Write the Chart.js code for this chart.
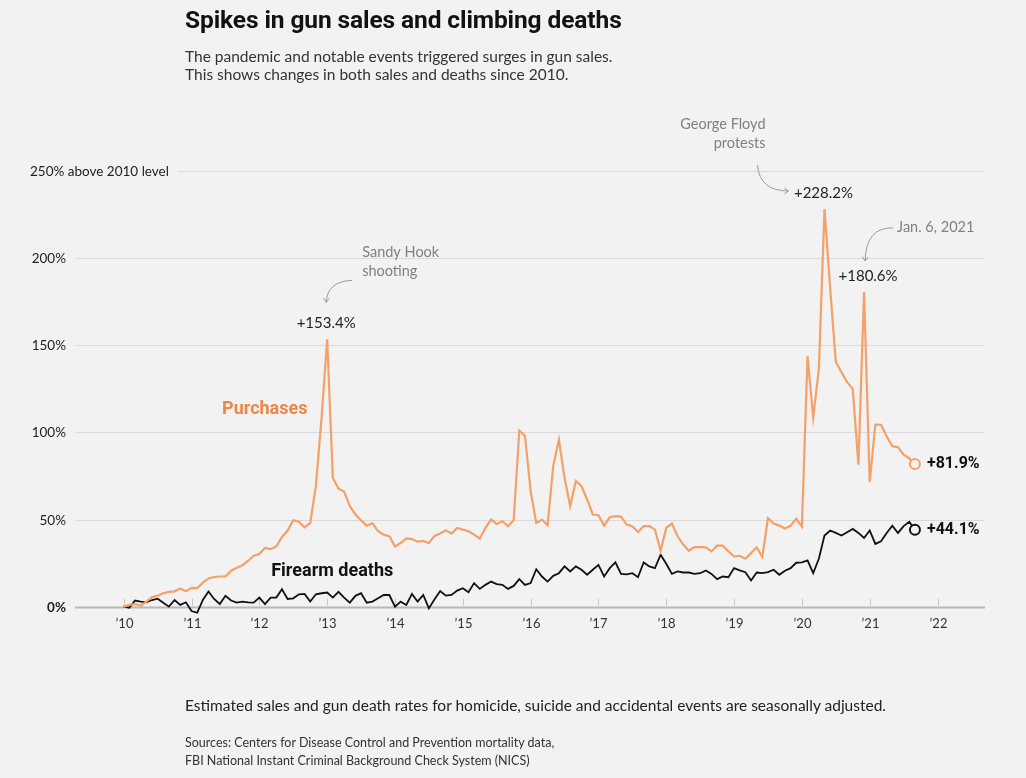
<!DOCTYPE html>
<html>
<head>
<meta charset="utf-8">
<script src="https://cdn.jsdelivr.net/npm/chart.js@4"></script>
<style>
    body { margin: 0; background: #f2f2f2; font-family: Lato, "Liberation Sans", sans-serif; }
    #wrap { position: relative; width: 1026px; height: 778px; overflow: hidden; }
    #chart { position: absolute; left: 0; top: 0; }
    .txt { position: absolute; margin: 0; white-space: nowrap; }
    h1.txt { left: 185px; top: 5px; font-family: Roboto, sans-serif; font-size: 24.5px; font-weight: 700; color: #111; letter-spacing: -0.1px; }
    .sub { left: 185px; top: 47px; font-size: 15.5px; line-height: 18px; color: #333; }
    .note { left: 185px; top: 696px; font-size: 15.5px; color: #222; }
    .src { left: 185px; top: 734px; font-size: 12.5px; line-height: 18px; color: #333; }
</style>
</head>
<body>
<div id="wrap">
    <canvas id="chart" width="1026" height="778"></canvas>
    <h1 class="txt">Spikes in gun sales and climbing deaths</h1>
    <p class="txt sub">The pandemic and notable events triggered surges in gun sales.<br>This shows changes in both sales and deaths since 2010.</p>
    <p class="txt note">Estimated sales and gun death rates for homicide, suicide and accidental events are seasonally adjusted.</p>
    <p class="txt src">Sources: Centers for Disease Control and Prevention mortality data,<br>FBI National Instant Criminal Background Check System (NICS)</p>
</div>
<script>
// monthly change vs 2010 level, Jan 2010 .. Sep 2021
const purchases = [
    0, 1, 1.5, 0.6, 2.9, 5.4, 6.3, 7.7, 8.5, 8.8, 10.4, 8.8,
    10.8, 10.6, 13.8, 16.2, 17, 17.3, 17.3, 20.6, 22.3, 23.8, 26.2, 29.2,
    30.2, 33.7, 33, 34.6, 40, 43.7, 49.6, 48.7, 45.6, 48, 69.2, 108,
    153.4, 74, 67.7, 66, 57.7, 52.9, 49.5, 46.5, 48, 43.3, 41.3, 40.4,
    34.6, 36.5, 39.2, 38.8, 37.3, 37.7, 36.5, 40.6, 42, 43.8, 41.9, 45.2,
    44.2, 43.3, 41.3, 39, 45.2, 50, 47.5, 49, 46.2, 49.6, 101, 98,
    66.3, 48, 50, 46.7, 80.8, 95.8, 74, 57.7, 72.1, 69.2, 61.5, 52.9,
    52.5, 46.5, 51.3, 51.9, 51.7, 47.1, 46.2, 42.9, 46.2, 46.2, 44.2, 32.1,
    45.2, 47.7, 40.4, 35.6, 32.1, 34.2, 34.2, 34, 31.7, 35, 35, 31.7,
    28.8, 29.2, 27.5, 30.8, 34, 28.5, 50.8, 47.7, 46.5, 44.8, 46.5, 50.4,
    46, 143.8, 108.5, 136.3, 228.2, 183, 140.4, 134.6, 128.8, 125, 81.5, 180.6,
    71.5, 104.5, 104.4, 97.7, 92, 91.5, 87.2, 85.1, 81.9
];
const deaths = [
    0, -0.6, 3.5, 2.9, 2.5, 3.8, 4.6, 2.3, 0, 3.8, 1, 2.5,
    -2.5, -3.5, 3.8, 8.7, 4.4, 1.5, 6.2, 3.5, 2.3, 2.9, 2.5, 2.3,
    5.2, 1.5, 5.2, 5.2, 10, 4.4, 4.8, 7.1, 7.3, 2.9, 7.1, 7.7,
    8.1, 5.2, 8.5, 5.2, 2.3, 6.2, 7.7, 2.3, 2.9, 4.8, 6.7, 6.7,
    0, 2.9, 1, 7.3, 2.9, 6.7, -1, 4.2, 9, 6.3, 6.7, 9.2,
    10.6, 8.3, 13.5, 10.2, 12.5, 14.4, 12.9, 12.5, 10.2, 11.9, 15.8, 12.5,
    13.5, 21.5, 17.3, 14.4, 17.7, 19.2, 23.1, 20.2, 23.1, 21.2, 18.3, 21.2,
    24, 17.3, 22.1, 25.4, 18.8, 18.5, 19.2, 16.9, 25.4, 23.1, 22.1, 29.8,
    24.6, 18.8, 20.2, 19.6, 19.6, 18.8, 19.2, 20.8, 18.8, 15.8, 17.3, 16.9,
    22.1, 20.8, 19.8, 15, 19.6, 19.2, 19.8, 21.2, 18.3, 20.6, 22.1, 25.2,
    25.4, 26.5, 19.2, 27.5, 40.8, 43.7, 42.3, 40.8, 42.7, 44.6, 42.3, 39.4,
    43.7, 36, 37.5, 42.3, 46.5, 42.3, 46.2, 48.7, 44.1
];
const yearTicks = [0, 12, 24, 36, 48, 60, 72, 84, 96, 108, 120, 132, 144];
const yearLabels = ['\u201910', '\u201911', '\u201912', '\u201913', '\u201914', '\u201915', '\u201916', '\u201917', '\u201918', '\u201919', '\u201920', '\u201921', '\u201922'];
const valueTicks = [0, 50, 100, 150, 200, 250];
const valueLabels = ['0%', '50%', '100%', '150%', '200%', '250% above 2010 level'];

// peaks called out on the purchases line
const callouts = [
    { index: 36, label: '+153.4%', note: ['Sandy Hook', 'shooting'] },
    { index: 124, label: '+228.2%', note: ['George Floyd', 'protests'] },
    { index: 131, label: '+180.6%', note: ['Jan. 6, 2021'] }
];

const ORANGE = '#f3a168';
const ORANGE_TXT = '#eb8846';
const FONT = 'Lato, "Liberation Sans", sans-serif';
const BOLD_FONT = 'Roboto, sans-serif';
const last = purchases.length - 1;

function arrow(ctx, x0, y0, cx, cy, x1, y1) {
    ctx.beginPath();
    ctx.moveTo(x0, y0);
    ctx.quadraticCurveTo(cx, cy, x1, y1);
    ctx.stroke();
    const a = Math.atan2(y1 - cy, x1 - cx);
    ctx.beginPath();
    ctx.moveTo(x1 - 5 * Math.cos(a - 0.6), y1 - 5 * Math.sin(a - 0.6));
    ctx.lineTo(x1, y1);
    ctx.lineTo(x1 - 5 * Math.cos(a + 0.6), y1 - 5 * Math.sin(a + 0.6));
    ctx.stroke();
}

const backdrop = {
    id: 'backdrop',
    beforeDatasetsDraw(chart) {
        const { ctx, chartArea, scales: { x, y } } = chart;
        ctx.save();
        valueTicks.forEach((v, i) => {
            const py = Math.round(y.getPixelForValue(v)) + 0.5;
            ctx.beginPath();
            ctx.strokeStyle = v === 0 ? '#b8b8b8' : '#dadada';
            ctx.lineWidth = v === 0 ? 2 : 1;
            ctx.moveTo(v === 250 ? 178 : chartArea.left, py);
            ctx.lineTo(chartArea.right, py);
            ctx.stroke();
            ctx.font = (v === 0 ? 'bold ' : '') + '13.5px ' + FONT;
            ctx.fillStyle = '#222';
            ctx.textBaseline = 'middle';
            if (v === 250) {
                ctx.textAlign = 'left';
                ctx.fillText(valueLabels[i], 30, py);
            } else {
                ctx.textAlign = 'right';
                ctx.fillText(valueLabels[i], 66, py);
            }
        });
        const base = y.getPixelForValue(0);
        ctx.strokeStyle = '#c8c8c8';
        ctx.lineWidth = 1;
        ctx.font = '13px ' + FONT;
        ctx.fillStyle = '#333';
        ctx.textAlign = 'center';
        yearTicks.forEach((m, i) => {
            const px = Math.round(x.getPixelForValue(m)) + 0.5;
            ctx.beginPath();
            ctx.moveTo(px, base - 1);
            ctx.lineTo(px, base - 8);
            ctx.stroke();
            ctx.fillText(yearLabels[i], px, base + 17);
        });
        ctx.restore();
    },
    afterDatasetsDraw(chart) {
        const { ctx, scales: { x, y } } = chart;
        ctx.save();
        ctx.textBaseline = 'middle';

        // series names
        ctx.font = 'bold 18px ' + BOLD_FONT;
        ctx.textAlign = 'left';
        ctx.fillStyle = ORANGE_TXT;
        ctx.fillText('Purchases', x.getPixelForValue(17.4), y.getPixelForValue(113));
        ctx.fillStyle = '#111';
        ctx.fillText('Firearm deaths', x.getPixelForValue(26.1), y.getPixelForValue(20));

        // end values
        ctx.font = 'bold 16px ' + BOLD_FONT;
        ctx.fillText('+' + purchases[last] + '%', x.getPixelForValue(last) + 12, y.getPixelForValue(purchases[last]));
        ctx.fillText('+' + deaths[last] + '%', x.getPixelForValue(last) + 12, y.getPixelForValue(deaths[last]));

        // callouts
        ctx.strokeStyle = '#999';
        ctx.lineWidth = 1;
        callouts.forEach((c, k) => {
            const px = x.getPixelForValue(c.index);
            const py = y.getPixelForValue(purchases[c.index]);
            ctx.font = '15px ' + FONT;
            ctx.fillStyle = '#222';
            ctx.textAlign = 'center';
            ctx.fillText(c.label, px + (k === 2 ? 4 : -1), py - 16);
            ctx.font = '14.5px ' + FONT;
            ctx.fillStyle = '#808080';
            if (k === 0) {
                ctx.textAlign = 'left';
                ctx.fillText(c.note[0], px + 35, py - 87);
                ctx.fillText(c.note[1], px + 35, py - 68);
                arrow(ctx, px + 25, py - 59, px, py - 58, px - 1, py - 37);
            } else if (k === 1) {
                ctx.textAlign = 'right';
                ctx.fillText(c.note[0], px - 59, py - 85);
                ctx.fillText(c.note[1], px - 59, py - 66);
                arrow(ctx, px - 67, py - 44, px - 65, py - 18, px - 36, py - 18);
            } else {
                ctx.textAlign = 'left';
                ctx.fillText(c.note[0], px + 33, py - 65);
                arrow(ctx, px + 29, py - 64, px + 2, py - 65, px + 1, py - 31);
            }
        });
        ctx.restore();
    }
};

const endPoint = c => (c.dataIndex === last ? 5 : 0);

new Chart(document.getElementById('chart'), {
    type: 'line',
    data: {
        datasets: [
            {
                label: 'Purchases',
                data: purchases.map((v, i) => ({ x: i, y: v })),
                borderColor: ORANGE,
                borderWidth: 2.2,
                pointRadius: endPoint,
                pointBorderWidth: 2,
                pointBackgroundColor: '#f2f2f2',
                pointBorderColor: ORANGE,
                clip: false
            },
            {
                label: 'Firearm deaths',
                data: deaths.map((v, i) => ({ x: i, y: v })),
                borderColor: '#111',
                borderWidth: 1.8,
                pointRadius: endPoint,
                pointBorderWidth: 2,
                pointBackgroundColor: '#f2f2f2',
                pointBorderColor: '#111',
                clip: false
            }
        ]
    },
    options: {
        responsive: false,
        devicePixelRatio: 1,
        animation: false,
        layout: { padding: { left: 75, right: 41, top: 171, bottom: 157.4 } },
        plugins: { legend: { display: false }, tooltip: { enabled: false } },
        scales: {
            x: { type: 'linear', min: -8.62, max: 152.4, display: false },
            y: { min: -8, max: 250, display: false }
        }
    },
    plugins: [backdrop]
});
</script>
</body>
</html>
